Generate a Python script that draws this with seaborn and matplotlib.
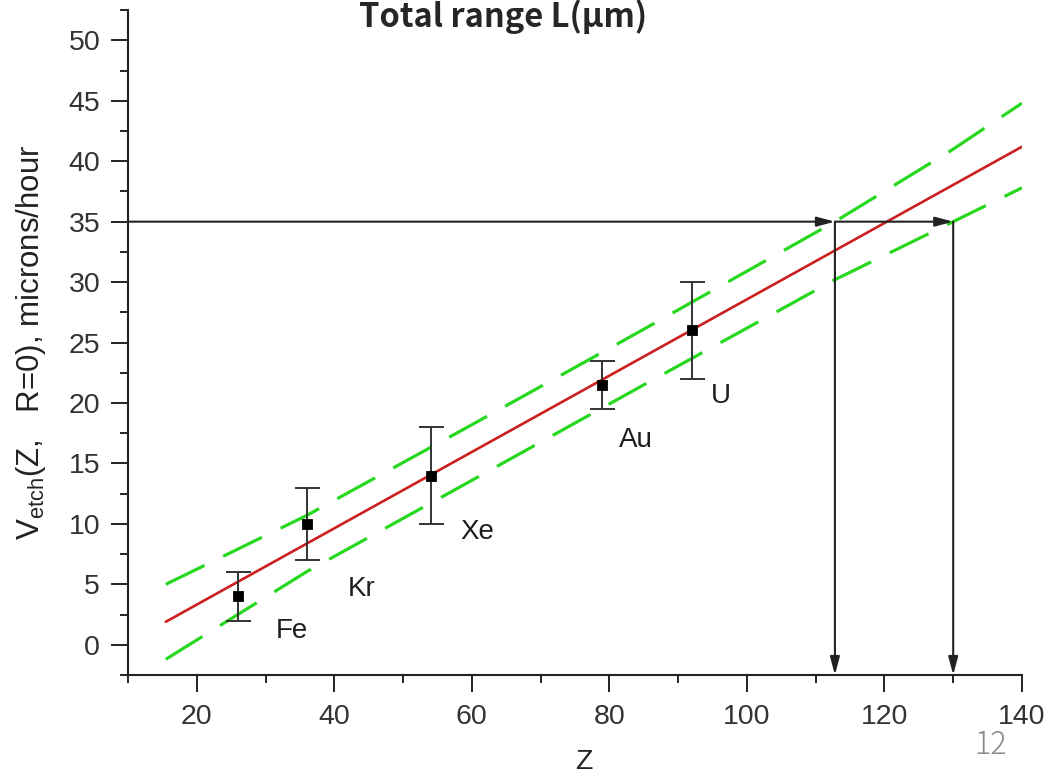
import numpy as np
import pandas as pd
import matplotlib
matplotlib.use("Agg")
import matplotlib.pyplot as plt
from matplotlib.ticker import MultipleLocator
import seaborn as sns

# measured points with error bars
elements = ["Fe", "Kr", "Xe", "Au", "U"]
z_vals = [26, 36, 54, 79, 92]
v_vals = [4.0, 10.0, 14.0, 21.5, 26.0]
v_err = [2.0, 3.0, 4.0, 2.0, 4.0]

# label anchors for the element names
label_z = [31.5, 41.9, 58.3, 81.4, 94.8]
label_v = [1.1, 4.6, 9.3, 16.9, 20.6]

# linear fit and confidence band
fit_z = [15.5, 140]
fit_v = [1.9, 41.2]
band_z = [15.5, 36, 60, 85, 112.8, 130, 140]
band_hi = [5.0, 10.7, 18.2, 26.1, 35.0, 41.0, 44.8]
band_lo = [-1.2, 6.05, 13.6, 21.5, 30.2, 35.0, 37.8]

# read-out for V = 35
v_level = 35
z_read = [112.8, 130]

sns.set_theme(style="ticks")
plt.rcParams["font.family"] = ["Liberation Sans", "Noto Sans CJK JP", "DejaVu Sans"]
plt.rcParams["mathtext.fontset"] = "custom"
plt.rcParams["mathtext.rm"] = "Liberation Sans"
plt.rcParams["mathtext.it"] = "Liberation Sans"

fig = plt.figure(figsize=(10.63, 7.78), dpi=100)
ax = fig.add_axes([0.1204, 0.1324, 0.8410, 0.8546])

fit_df = pd.DataFrame({"Z": fit_z, "V": fit_v})
band_df = pd.DataFrame({"Z": band_z, "hi": band_hi, "lo": band_lo})
pts = pd.DataFrame({"Z": z_vals, "V": v_vals, "err": v_err})

green = "#28d820"
dash = (0, (13.5, 6.5))
sns.lineplot(data=band_df, x="Z", y="hi", ax=ax, color=green, lw=2.3, linestyle=dash)
sns.lineplot(data=band_df, x="Z", y="lo", ax=ax, color=green, lw=2.3, linestyle=dash)
sns.lineplot(data=fit_df, x="Z", y="V", ax=ax, color="#cc1f1f", lw=1.9)

ax.errorbar(pts["Z"], pts["V"], yerr=pts["err"], fmt="none", ecolor="#333333",
            elinewidth=1.4, capsize=9, capthick=1.4, zorder=3)
sns.scatterplot(data=pts, x="Z", y="V", ax=ax, marker="s", s=55, color="black",
                edgecolor="black", zorder=4)

for name, lz, lv in zip(elements, label_z, label_v):
    ax.text(lz, lv, name, fontsize=20, color="#1e1e1e", ha="left", va="center")

# arrows showing the range read-out
ymin = -2.5
aprops = dict(arrowstyle="-|>,head_length=0.6,head_width=0.16", color="#222222",
              lw=1.5, mutation_scale=18, shrinkA=0, shrinkB=0)
ax.annotate("", xy=(z_read[0], v_level), xytext=(10, v_level), arrowprops=aprops,
            annotation_clip=False)
ax.annotate("", xy=(z_read[1], v_level), xytext=(z_read[0], v_level), arrowprops=aprops,
            annotation_clip=False)
for zr in z_read:
    ax.annotate("", xy=(zr, ymin), xytext=(zr, v_level), arrowprops=aprops,
                annotation_clip=False)

ax.set_xlim(10, 140)
ax.set_ylim(ymin, 52.5)
ax.xaxis.set_major_locator(MultipleLocator(20))
ax.xaxis.set_minor_locator(MultipleLocator(10))
ax.yaxis.set_major_locator(MultipleLocator(5))
ax.yaxis.set_minor_locator(MultipleLocator(2.5))
ax.set_xticks(range(20, 141, 20))
ax.tick_params(which="major", length=12, width=1.4, color="#222222",
               labelsize=20.5, labelcolor="#333333")
ax.tick_params(axis="x", which="major", pad=9)
ax.tick_params(axis="y", which="major", pad=8)
ax.tick_params(which="minor", length=6, width=1.4, color="#222222")
sns.despine(ax=ax)
for s in ("left", "bottom"):
    ax.spines[s].set_linewidth(1.5)
    ax.spines[s].set_color("#222222")

ax.set_xlabel("Z", fontsize=20.5, color="#222222")
ax.set_ylabel(r"V$_{\rm etch}$(Z,   R=0), microns/hour", fontsize=22.5,
              color="#222222")
ax.xaxis.set_label_coords(0.51, -0.112)
ax.yaxis.set_label_coords(-0.089, 0.5)

fig.text(0.473, 0.978, "Total range L(μm)", fontsize=23.5, fontweight="bold",
         ha="center", va="center", family=["Noto Sans CJK JP", "DejaVu Sans"])
fig.text(0.932, 0.042, "12", fontsize=22, color="#8a8a8a", fontweight="light",
         ha="center", va="center", family=["Noto Sans CJK JP", "DejaVu Sans"])

fig.savefig("out.png", dpi=100)
